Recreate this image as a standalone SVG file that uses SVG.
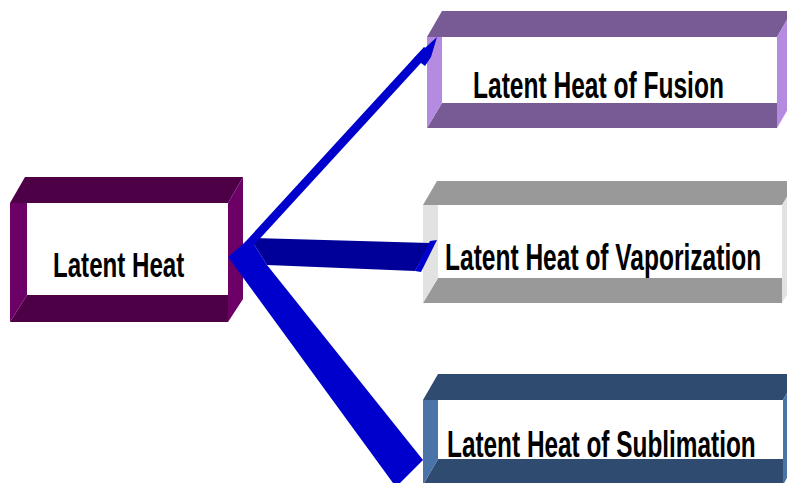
<svg xmlns="http://www.w3.org/2000/svg" width="787" height="483" viewBox="0 0 787 483">
<style>
.lbl{font-family:"Liberation Sans",Arial,sans-serif;font-weight:bold;fill:#000;}
.in{fill:#fff;}
.m1{fill:#4e0047;} .m2{fill:#6c0066;}
.f1{fill:#785b95;} .f2{fill:#b48be0;}
.v1{fill:#999999;} .v2{fill:#e2e2e2;}
.s1{fill:#2f4b6f;} .s2{fill:#4a74a8;}
.blue{fill:#0000cc;} .navy{fill:#000099;}
</style>
<rect width="787" height="483" fill="#fff"/>
<g id="node-latent-heat">
<rect class="in" x="27" y="203" width="201" height="92"/>
<polygon class="m1" points="10,203 25,177 243,177 228,203"/>
<polygon class="m1" points="27,295 228,295 228,322 10,322"/>
<polygon class="m2" points="10,203 27,203 27,295 10,322"/>
<polygon class="m2" points="228,203 243,177 243,299 228,322"/>
<text class="lbl" transform="translate(53,277) scale(0.68,1)" font-size="35" textLength="193" lengthAdjust="spacingAndGlyphs">Latent Heat</text>
</g>
<g id="node-fusion">
<rect class="in" x="442" y="37" width="335" height="66"/>
<polygon class="f1" points="427,37 442,11 792,11 777,37"/>
<polygon class="f1" points="442,103 777,103 777,128 427,128"/>
<polygon class="f2" points="427,37 442,37 442,103 427,128"/>
<polygon class="f2" points="777,37 792,11 792,102 777,128"/>
<text class="lbl" transform="translate(473,98) scale(0.68,1)" font-size="36" textLength="369" lengthAdjust="spacingAndGlyphs">Latent Heat of Fusion</text>
</g>
<g id="node-vaporization">
<rect class="in" x="438" y="205" width="344" height="73"/>
<polygon class="v1" points="423,205 437,181 797,181 782,205"/>
<polygon class="v1" points="438,278 782,278 782,303 423,303"/>
<polygon class="v2" points="423,205 438,205 438,278 423,303"/>
<polygon class="v2" points="782,205 797,181 797,278 782,303"/>
<text class="lbl" transform="translate(445,270) scale(0.68,1)" font-size="36" textLength="465" lengthAdjust="spacingAndGlyphs">Latent Heat of Vaporization</text>
</g>
<g id="node-sublimation">
<rect class="in" x="438" y="400" width="345" height="59"/>
<polygon class="s1" points="423,400 438,374 798,374 783,400"/>
<polygon class="s1" points="438,459 783,459 783,485 423,485"/>
<polygon class="s2" points="423,400 438,400 438,459 423,485"/>
<polygon class="s2" points="783,400 798,374 798,459 783,485"/>
<text class="lbl" transform="translate(447,457) scale(0.68,1)" font-size="36" textLength="454" lengthAdjust="spacingAndGlyphs">Latent Heat of Sublimation</text>
</g>
<g id="connectors">
<polygon class="navy" points="250,238 430,243 415,271 267,265"/>
<polygon class="blue" points="430,241 437,240 421,272 415,271"/>
<polygon class="blue" points="236,252 424,47 431,52 243,257"/>
<polygon class="blue" points="437,37 431,57 425,66 421,63 418,60 414,58"/>
<polygon class="blue" points="228,257 250,238 267,265 423,460 400,483 393,483"/>
</g>
</svg>
